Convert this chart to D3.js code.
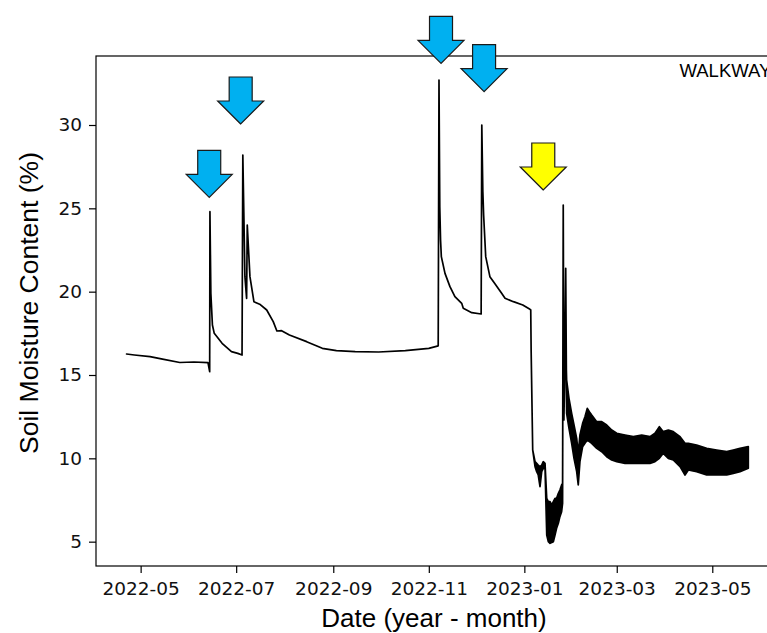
<!DOCTYPE html>
<html>
<head>
<meta charset="utf-8">
<script src="https://cdn.jsdelivr.net/npm/d3@7"></script>
<style>
  html, body { margin: 0; padding: 0; background: #fff; }
  svg { display: block; }
</style>
</head>
<body>
<svg id="chart" width="767" height="633"></svg>
<script>
// Soil moisture readings at the walkway sensor.
// Where the logger trace is noisy, the band between the daily low and high is drawn.
const dates = [
  "2022-04-22", "2022-04-27", "2022-05-07", "2022-05-15", "2022-05-26", "2022-06-04",
  "2022-06-13", "2022-06-14T02:00", "2022-06-14T06:00", "2022-06-14T20:00", "2022-06-15T20:00",
  "2022-06-17", "2022-06-22", "2022-06-28", "2022-07-02", "2022-07-04T18:00",
  "2022-07-05T06:00", "2022-07-06T14:00", "2022-07-07T16:00", "2022-07-08T02:00",
  "2022-07-09T19:00", "2022-07-12T08:00", "2022-07-16", "2022-07-20T12:00", "2022-07-24T16:00",
  "2022-07-27", "2022-07-30", "2022-08-04", "2022-08-15", "2022-08-25", "2022-09-03",
  "2022-09-15", "2022-09-30", "2022-10-17", "2022-11-01", "2022-11-07T00:00",
  "2022-11-07T12:00", "2022-11-08T00:00", "2022-11-08T12:00", "2022-11-09T00:00",
  "2022-11-11T08:00", "2022-11-14T12:00", "2022-11-17T16:00", "2022-11-22", "2022-11-23",
  "2022-11-28T10:00", "2022-12-04T10:00", "2022-12-04T20:00", "2022-12-05T12:00",
  "2022-12-06T00:00", "2022-12-07T08:00", "2022-12-10", "2022-12-13", "2022-12-17T12:00",
  "2022-12-19T16:00", "2022-12-25", "2022-12-31", "2023-01-04T14:00", "2023-01-05T02:00",
  "2023-01-05T08:00", "2023-01-06T08:00", "2023-01-07T20:00", "2023-01-08T21:00",
  "2023-01-09T21:00", "2023-01-11T00:00", "2023-01-12T02:00", "2023-01-13T02:00",
  "2023-01-14T05:00", "2023-01-15T07:00", "2023-01-16T07:00", "2023-01-17T10:00",
  "2023-01-18T12:00", "2023-01-19T12:00", "2023-01-20T14:00", "2023-01-21T14:00",
  "2023-01-22T17:00", "2023-01-23T17:00", "2023-01-24T19:00", "2023-01-25T10:00",
  "2023-01-25T20:00", "2023-01-26T06:00", "2023-01-26T18:00", "2023-01-27T10:00",
  "2023-01-27T20:00", "2023-01-28T00:00", "2023-01-29T12:00", "2023-01-31T05:00",
  "2023-02-01T17:00", "2023-02-03T10:00", "2023-02-04T10:00", "2023-02-05T12:00",
  "2023-02-07T05:00", "2023-02-08T17:00", "2023-02-10T05:00", "2023-02-11T12:00",
  "2023-02-13T00:00", "2023-02-16T05:00", "2023-02-19T10:00", "2023-02-22T14:00",
  "2023-02-25T19:00", "2023-03-01T00:00", "2023-03-06T07:00", "2023-03-11T14:00",
  "2023-03-16T22:00", "2023-03-22T05:00", "2023-03-25T10:00", "2023-03-28T05:00",
  "2023-03-30T17:00", "2023-04-02T22:00", "2023-04-06T02:00", "2023-04-10T10:00",
  "2023-04-13T14:00", "2023-04-15T17:00", "2023-04-21", "2023-04-27T10:00",
  "2023-05-03T19:00", "2023-05-10T05:00", "2023-05-14T10:00", "2023-05-18T17:00",
  "2023-05-24"
];

const lowValues = [
  16.26, 16.2, 16.1, 15.95, 15.75, 15.78,
  15.74, 15.2, 24.8, 19.9, 18.0,
  17.5, 16.9, 16.4, 16.3, 16.2,
  28.2, 20.9, 19.6, 24.0,
  20.9, 19.4, 19.25, 18.9, 18.2,
  17.64, 17.66, 17.4, 17.0, 16.6, 16.46,
  16.4, 16.38, 16.46, 16.6, 16.75,
  32.7, 25.1, 23.1, 22.1,
  21.1, 20.3, 19.7, 19.3, 19.0,
  18.74, 18.66, 30.0, 26.0,
  24.6, 22.1, 20.9, 20.5, 19.9,
  19.6, 19.4, 19.2, 18.94, 18.9,
  16.5, 10.5, 9.5, 9.2,
  9.0, 8.3, 9.2, 9.4,
  9.4, 5.4, 5.0, 4.9,
  4.95, 5.0, 5.4, 5.8,
  6.1, 6.5, 6.8, 7.3,
  25.2, 12.3, 15.0, 21.4,
  14.2, 12.7, 11.8, 10.9,
  10.0, 9.2, 8.4, 9.8,
  10.7, 10.9, 11.1, 11.0,
  10.9, 10.6, 10.4, 10.1,
  9.9, 9.8, 9.7, 9.7,
  9.7, 9.7, 9.8, 10.0,
  10.3, 10.0, 9.9, 9.5,
  9.0, 9.3, 9.2, 9.0,
  9.0, 9.0, 9.1, 9.2,
  9.4
];

const highValues = [
  16.26, 16.2, 16.1, 15.95, 15.75, 15.78,
  15.74, 15.2, 24.8, 19.9, 18.0,
  17.5, 16.9, 16.4, 16.3, 16.2,
  28.2, 20.9, 19.6, 24.0,
  20.9, 19.4, 19.25, 18.9, 18.2,
  17.64, 17.66, 17.4, 17.0, 16.6, 16.46,
  16.4, 16.38, 16.46, 16.6, 16.75,
  32.7, 25.1, 23.1, 22.1,
  21.1, 20.3, 19.7, 19.3, 19.0,
  18.74, 18.66, 30.0, 26.0,
  24.6, 22.1, 20.9, 20.5, 19.9,
  19.6, 19.4, 19.2, 18.94, 18.9,
  16.5, 10.5, 9.8, 9.7,
  9.6, 9.5, 9.6, 9.8,
  9.7, 7.6, 7.4, 7.4,
  7.2, 7.4, 7.6, 7.6,
  7.9, 8.1, 8.4, 8.5,
  25.2, 12.5, 15.0, 21.4,
  15.3, 14.7, 13.6, 12.7,
  12.0, 11.2, 10.3, 11.4,
  12.1, 12.5, 13.0, 12.8,
  12.6, 12.2, 12.2, 12.0,
  11.7, 11.5, 11.4, 11.3,
  11.4, 11.3, 11.5, 11.9,
  11.6, 11.7, 11.6, 11.3,
  10.9, 10.9, 10.8, 10.6,
  10.5, 10.4, 10.5, 10.6,
  10.7
];

// Wetting events marked on the chart (blue) and the winter event (yellow)
const arrowDates = ["2022-06-13T19:00", "2022-07-03T21:00", "2022-11-08T19:00", "2022-12-06T07:00", "2023-01-13T02:00"];
const arrowTipValues = [25.66, 30.06, 33.7, 32.0, 26.1];
const arrowColors = ["#00b0f0", "#00b0f0", "#00b0f0", "#00b0f0", "#ffff00"];

const xTickDates = ["2022-05-01", "2022-07-01", "2022-09-01", "2022-11-01", "2023-01-01", "2023-03-01", "2023-05-01"];
const yTickValues = [5, 10, 15, 20, 25, 30];
const xDomain = ["2022-04-02T12:00", "2023-06-11T00:00"];
const yDomain = [3.54, 34.14];

const siteLabel = "WALKWAY";
const xTitle = "Date (year - month)";
const yTitle = "Soil Moisture Content (%)";

const parse = s => new Date(s.length === 10 ? s + "T00:00:00" : s + ":00");

const plot = { left: 96, top: 56, right: 776.5, bottom: 566 };

const svg = d3.select("#chart");

const x = d3.scaleTime()
  .domain(xDomain.map(parse))
  .range([plot.left, plot.right]);

const y = d3.scaleLinear()
  .domain(yDomain)
  .range([plot.bottom, plot.top]);

const series = dates.map((d, i) => ({ t: parse(d), lo: lowValues[i], hi: highValues[i] }));

// Trace
const band = d3.area()
  .x(d => x(d.t))
  .y0(d => y(d.lo))
  .y1(d => y(d.hi));

svg.append("path")
  .datum(series)
  .attr("d", band)
  .attr("fill", "#000")
  .attr("stroke", "#000")
  .attr("stroke-width", 1.7)
  .attr("stroke-linejoin", "round");

// Axes
const tickFont = "'DejaVu Sans', sans-serif";

const xAxis = d3.axisBottom(x)
  .tickValues(xTickDates.map(parse))
  .tickFormat(d3.timeFormat("%Y-%m"))
  .tickSize(7)
  .tickPadding(9);

const yAxis = d3.axisLeft(y)
  .tickValues(yTickValues)
  .tickFormat(d3.format("d"))
  .tickSize(7)
  .tickPadding(7);

const gx = svg.append("g")
  .attr("transform", `translate(0,${plot.bottom})`)
  .call(xAxis);
const gy = svg.append("g")
  .attr("transform", `translate(${plot.left},0)`)
  .call(yAxis);

[gx, gy].forEach(g => {
  g.select(".domain").remove();
  g.selectAll(".tick line").attr("stroke", "#000").attr("stroke-width", 1.2);
  g.selectAll(".tick text")
    .attr("fill", "#111")
    .style("font-family", tickFont)
    .style("font-size", "18.5px");
});

// Frame
svg.append("rect")
  .attr("x", plot.left)
  .attr("y", plot.top)
  .attr("width", plot.right - plot.left)
  .attr("height", plot.bottom - plot.top)
  .attr("fill", "none")
  .attr("stroke", "#000")
  .attr("stroke-width", 1.2);

// Site label
svg.append("text")
  .attr("x", 679.5)
  .attr("y", 77)
  .style("font-family", "'Liberation Sans', Arial, sans-serif")
  .style("font-size", "18.5px")
  .attr("fill", "#000")
  .text(siteLabel);

// Axis titles
svg.append("text")
  .attr("x", 434)
  .attr("y", 627)
  .attr("text-anchor", "middle")
  .style("font-family", "'Liberation Sans', Arial, sans-serif")
  .style("font-size", "26px")
  .attr("fill", "#000")
  .text(xTitle);

svg.append("text")
  .attr("transform", "translate(38,303) rotate(-90)")
  .attr("text-anchor", "middle")
  .style("font-family", "'Liberation Sans', Arial, sans-serif")
  .style("font-size", "26.5px")
  .attr("fill", "#000")
  .text(yTitle);

// Block arrows pointing down at each event
const headHalf = 23, headH = 23, shaftHalf = 11.5, shaftH = 24;
const arrowPath = () => {
  const p = d3.path();
  p.moveTo(0, 0);
  p.lineTo(-headHalf, -headH);
  p.lineTo(-shaftHalf, -headH);
  p.lineTo(-shaftHalf, -headH - shaftH);
  p.lineTo(shaftHalf, -headH - shaftH);
  p.lineTo(shaftHalf, -headH);
  p.lineTo(headHalf, -headH);
  p.closePath();
  return p.toString();
};

svg.append("g")
  .selectAll("path")
  .data(arrowDates.map((d, i) => ({ t: parse(d), v: arrowTipValues[i], c: arrowColors[i] })))
  .join("path")
  .attr("transform", d => `translate(${x(d.t)},${y(d.v)})`)
  .attr("d", arrowPath())
  .attr("fill", d => d.c)
  .attr("stroke", "#1a1a1a")
  .attr("stroke-width", 1.2)
  .attr("stroke-linejoin", "miter");
</script>
</body>
</html>
